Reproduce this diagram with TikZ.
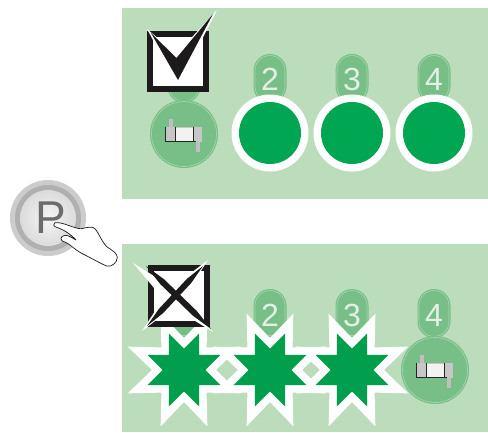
\documentclass[tikz,border=0pt]{standalone}
\usepackage{fontspec}
\setmainfont{Liberation Sans}
\definecolor{panel}{HTML}{BBDDBC}
\definecolor{midg}{HTML}{77BF87}
\definecolor{ringg}{HTML}{A9D7B1}
\definecolor{darkg}{HTML}{00A651}
\definecolor{digit}{HTML}{E4F0E4}
\definecolor{ink}{HTML}{1C1A1B}
\tikzset{
  panelbox/.style={fill=panel,draw=none},
  pill/.style={fill=midg,draw=none,rounded corners=16.5pt},
  pillring/.style={draw=ringg,line width=.6pt,fill=none,rounded corners=15pt},
  digitlabel/.style={text=digit,font=\fontsize{32}{32}\selectfont,inner sep=0pt,anchor=center},
  boxframe/.style={draw=ink,fill=white,line width=6pt,line join=miter},
}
\newcommand{\drawpill}[3]{% cx, ytop, ybottom
  \fill[pill] (#1-16.5,#2) rectangle (#1+16.5,#3);
  \draw[pillring] (#1-15,#2+1.5) rectangle (#1+15,#3-1.5);
}
\newcommand{\starshape}[5]{% cx, cy, outer, inner, colour
  \fill[#5] plot[samples at={0,...,15}] ({#1+(mod(\x,2)==0?#4:#3)*cos(22.5*\x)},{#2+(mod(\x,2)==0?#4:#3)*sin(22.5*\x)}) -- cycle;
}
\newcommand{\iconball}[2]{% cx, cy
  \fill[midg] (#1,#2) circle[radius=34];
  \draw[ringg,line width=.6pt] (#1,#2) circle[radius=32.5];
  \fill[gray!50] (#1-15,#2-15) rectangle (#1-11.5,#2-7.5);
  \fill[gray!50] (#1+11.7,#2+7.5) rectangle (#1+16,#2+17.7);
  \fill[gray!45] (#1-19,#2-7.5) rectangle (#1+17.7,#2+7.5);
  \fill[gray!10] (#1-9,#2-6.5) rectangle (#1+9,#2+6.5);
  \draw[gray!30!black,line width=.5pt] (#1-19,#2+7.5) -- (#1+11.7,#2+7.5) (#1-9,#2-7.5) -- (#1-9,#2+7.5) (#1+9,#2-7.5) -- (#1+9,#2+7.5) (#1-19,#2-7.5) -- (#1-19,#2+7.5);
}
\begin{document}
\begin{tikzpicture}[x=1pt,y=-1pt]
\useasboundingbox (0,0) rectangle (488,432);
\fill[white] (0,0) rectangle (488,432);
% panels
\fill[panelbox] (122,8) rectangle (488,199);
\fill[panelbox] (122,244) rectangle (488,432);
% top row
\drawpill{184}{54}{103}
\drawpill{270}{54}{103}
\drawpill{352}{54}{103}
\drawpill{434}{54}{103}
\node[digitlabel] (t2) at (270,79) {2};
\node[digitlabel] (t3) at (352,79) {3};
\node[digitlabel] (t4) at (434,79) {4};
\iconball{184}{134}
\foreach \cx in {270,352,434}{
  \fill[white] (\cx,133) circle[radius=38.5];
  \fill[darkg] (\cx,133) circle[radius=31];
}
% top check box
\draw[boxframe] (150,34) rectangle (206,89);
\fill[white] (147,29) -- (176.5,54) -- (217,10) -- (178,86) -- cycle;
\fill[ink] (151,33) -- (176.5,58) -- (213,14) -- (178,80) -- cycle;
% bottom row
\drawpill{184}{289}{337}
\drawpill{270}{289}{337}
\drawpill{352}{289}{337}
\drawpill{434}{289}{338}
\node[digitlabel] (b2) at (270,315) {2};
\node[digitlabel] (b3) at (352,315) {3};
\node[digitlabel] (b4) at (434,315) {4};
\foreach \cx in {184,270,352}{\starshape{\cx}{370}{61}{32}{white}}
\foreach \cx in {184,270,352}{\starshape{\cx}{370}{39.5}{21.5}{darkg!95!black}}
\iconball{435}{370}
% crossed box
\draw[boxframe] (151,268) rectangle (207,324);
\fill[white] (133,263) -- (160.3,279.9) -- (192.3,307.5) -- (213,332) -- (185.7,315.1) -- (153.7,287.5) -- cycle;
\fill[white] (142,331) -- (158.1,306.3) -- (184.5,277.9) -- (208,260) -- (191.9,284.7) -- (165.5,313.1) -- cycle;
\fill[ink] (146,266) -- (164.35,279.55) -- (196.85,311.05) -- (211,329) -- (192.65,315.45) -- (160.15,283.95) -- cycle;
\fill[ink] (147,326) -- (158.8,309) -- (186.8,279) -- (203,266) -- (191.2,283) -- (163.2,313) -- cycle;
% P button
\fill[gray!40] (48,218) circle[radius=38];
\fill[gray!62] (48,218) circle[radius=33];
\shade[inner color=gray!8,outer color=gray!28] (48,218) circle[radius=28];
\node[text=gray!85!black,font=\fontsize{46}{46}\selectfont,inner sep=0pt] (pkey) at (51,218) {P};
% hand
\begin{scope}[shift={(0,170)},x=.3333pt,y=-.3333pt]
\filldraw[fill=white,draw=ink,line width=.7pt,line join=round]
 (165,158) .. controls (190,155) and (225,178) .. (245,176)
 .. controls (262,172) and (278,168) .. (285,176)
 .. controls (300,195) and (305,215) .. (320,230)
 .. controls (335,240) and (352,250) .. (352,262)
 .. controls (352,278) and (335,292) .. (320,288)
 .. controls (300,280) and (270,262) .. (245,250)
 .. controls (225,240) and (210,222) .. (195,216)
 .. controls (180,215) and (178,198) .. (195,196)
 .. controls (205,195) and (218,205) .. (228,210)
 .. controls (215,195) and (190,178) .. (170,172)
 .. controls (160,170) and (158,160) .. (165,158) -- cycle;
\end{scope}
\end{tikzpicture}
\end{document}
